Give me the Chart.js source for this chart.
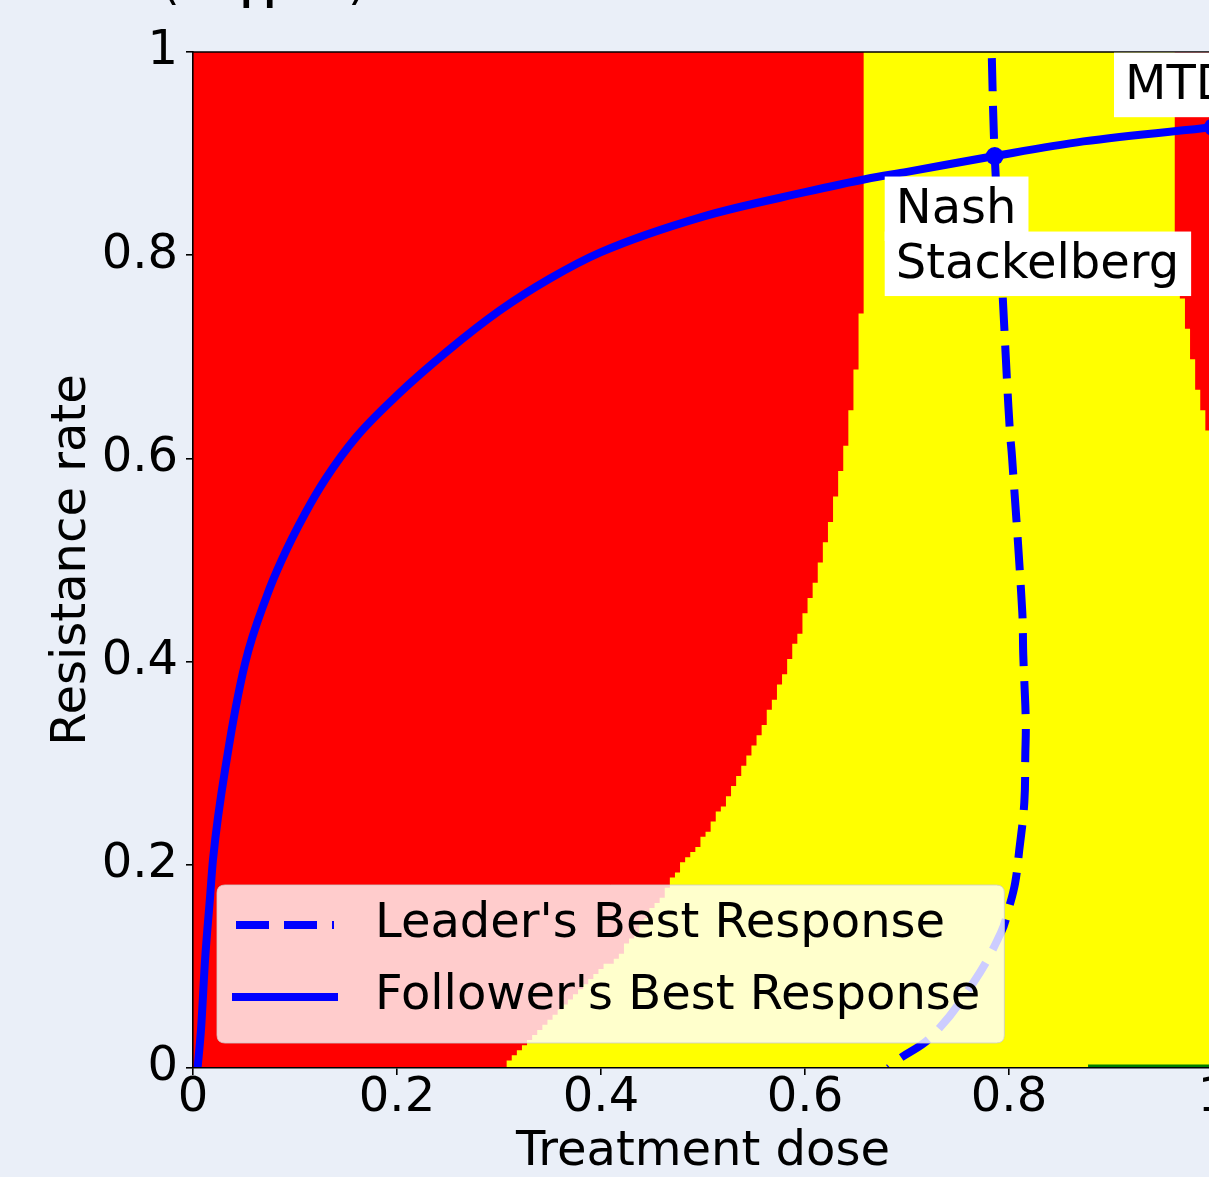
<!DOCTYPE html>
<html>
<head>
<meta charset="utf-8">
<script src="https://cdn.jsdelivr.net/npm/chart.js@4.4.1/dist/chart.umd.min.js"></script>
<style>
  html, body { margin: 0; padding: 0; overflow: hidden; background: #eaeff8; }
  #wrap { width: 1260px; height: 1177px; }
  canvas { display: block; }
</style>
</head>
<body>
<div id="wrap"><canvas id="chart" width="1260" height="1177"></canvas></div>
<script>
// Axis ticks
const xTickValues = [0, 0.2, 0.4, 0.6, 0.8, 1];
const xTickLabels = ['0', '0.2', '0.4', '0.6', '0.8', '1'];
const yTickValues = [0, 0.2, 0.4, 0.6, 0.8, 1];
const yTickLabels = ['0', '0.2', '0.4', '0.6', '0.8', '1'];

// Follower's best response: resistance rate chosen for each dose
const followerDose = [0.0045, 0.008, 0.0118, 0.0167, 0.0196, 0.0333, 0.051, 0.0725, 0.087, 0.11, 0.13,
  0.16, 0.2, 0.25, 0.3, 0.35, 0.4, 0.5, 0.6, 0.66, 0.7, 0.786, 0.873, 1.0];
const followerRate = [0.0, 0.04, 0.106, 0.168, 0.205, 0.305, 0.398, 0.465, 0.5, 0.546, 0.58,
  0.621, 0.662, 0.706, 0.745, 0.777, 0.803, 0.838, 0.862, 0.875, 0.882, 0.8976, 0.912, 0.926];

// Leader's best response: dose chosen for each resistance rate (top to bottom)
const leaderDose = [0.783, 0.786, 0.794, 0.798, 0.801, 0.803, 0.813, 0.814, 0.816, 0.8165, 0.816,
  0.815, 0.810, 0.806, 0.800, 0.792, 0.765, 0.724, 0.691, 0.682];
const leaderRate = [1.0, 0.8976, 0.756, 0.677, 0.625, 0.601, 0.449, 0.406, 0.357, 0.333, 0.310,
  0.261, 0.214, 0.182, 0.158, 0.133, 0.084, 0.031, 0.008, 0.0];

// Outcome map: upper edge of the yellow region in each dose column (column left edges)
const regionDose = [0, 0.3075, 0.3125, 0.3175, 0.3225, 0.3275, 0.3325, 0.3375, 0.3425, 0.3475, 0.3525,
  0.3575, 0.3625, 0.3675, 0.3725, 0.3775, 0.3825, 0.3875, 0.3925, 0.3975, 0.4025, 0.4075, 0.4125,
  0.4175, 0.4225, 0.4275, 0.4325, 0.4375, 0.4425, 0.4475, 0.4525, 0.4575, 0.4625, 0.4675, 0.4725,
  0.4775, 0.4825, 0.4875, 0.4925, 0.4975, 0.5025, 0.5075, 0.5125, 0.5175, 0.5225, 0.5275, 0.5325,
  0.5375, 0.5425, 0.5475, 0.5525, 0.5575, 0.5625, 0.5675, 0.5725, 0.5775, 0.5825, 0.5875, 0.5925,
  0.5975, 0.6025, 0.6075, 0.6125, 0.6175, 0.6225, 0.6275, 0.6325, 0.6375, 0.6425, 0.6475, 0.6525,
  0.6575, 0.9625, 0.9675, 0.9725, 0.9775, 0.9825, 0.9875, 0.9925, 0.9975, 1.0];
const regionTop = [0, 0.0075, 0.0125, 0.0175, 0.0225, 0.0275, 0.0325, 0.0375, 0.0425, 0.0475, 0.0525,
  0.0575, 0.0625, 0.0675, 0.0725, 0.0775, 0.0825, 0.0875, 0.0925, 0.0975, 0.1025, 0.1025, 0.1075,
  0.1125, 0.1225, 0.1275, 0.1325, 0.1425, 0.1475, 0.1575, 0.1625, 0.1675, 0.1775, 0.1875, 0.1925,
  0.2025, 0.2075, 0.2125, 0.2175, 0.2275, 0.2325, 0.2425, 0.2525, 0.2575, 0.2675, 0.2775, 0.2875,
  0.2975, 0.3075, 0.3175, 0.3275, 0.3375, 0.3525, 0.3625, 0.3775, 0.3875, 0.4025, 0.4175, 0.4275,
  0.4475, 0.4625, 0.4775, 0.4975, 0.5175, 0.5375, 0.5625, 0.5875, 0.6125, 0.6475, 0.6875, 0.7425,
  1.0, 0.7925, 0.7575, 0.7275, 0.6975, 0.6675, 0.6475, 0.6275, 0.6075, 0.6075];

// Green strip along the bottom row
const greenDose = [0.8775, 1.0];
const greenTop = [0.0035, 0.0035];

// Equilibria
const eqDose = [0.786, 1.0];
const eqRate = [0.8976, 0.926];
const eqLabels = [['Nash', 'Stackelberg'], ['MTD']];

const BLUE = '#0000ff';
const FONT = '"DejaVu Sans", "Liberation Sans", sans-serif';
Chart.defaults.font.family = FONT;
Chart.defaults.color = '#000';

const pts = (xs, ys) => xs.map((x, i) => ({ x, y: ys[i] }));

// Text boxes next to the equilibrium markers
const labelPlugin = {
  id: 'eqLabels',
  afterDatasetsDraw(chart) {
    const { ctx } = chart;
    const sx = chart.scales.x, sy = chart.scales.y;
    const place = [ { dx: -99, dy: 67 }, { dx: -88, dy: -28 } ];
    ctx.save();
    ctx.font = '48px ' + FONT;
    ctx.textBaseline = 'alphabetic';
    ctx.textAlign = 'left';
    eqDose.forEach((d, i) => {
      const px = sx.getPixelForValue(d), py = sy.getPixelForValue(eqRate[i]);
      eqLabels[i].forEach((txt, j) => {
        const tx = px + place[i].dx;
        const base = py + place[i].dy + j * 55;
        const w = ctx.measureText(txt).width;
        ctx.fillStyle = '#ffffff';
        ctx.fillRect(tx - 11, base - 46.5, w + 23, 64.5);
        ctx.fillStyle = '#000';
        ctx.fillText(txt, tx, base);
      });
    });
    ctx.restore();
  }
};

// Legend box inside the lower-left corner of the plot
const legendPlugin = {
  id: 'insetLegend',
  afterDatasetsDraw(chart) {
    const { ctx, chartArea } = chart;
    const items = chart.data.datasets.filter(d => d.legendRank)
      .sort((a, b) => a.legendRank - b.legendRank);
    ctx.save();
    ctx.font = '48px ' + FONT;
    const textW = Math.max(...items.map(d => ctx.measureText(d.label).width));
    const left = chartArea.left + 24;
    const bottom = chartArea.bottom - 25;
    const h = 158, w = 158 + textW + 24;
    const top = bottom - h, r = 8;
    ctx.beginPath();
    ctx.moveTo(left + r, top);
    ctx.lineTo(left + w - r, top);
    ctx.quadraticCurveTo(left + w, top, left + w, top + r);
    ctx.lineTo(left + w, bottom - r);
    ctx.quadraticCurveTo(left + w, bottom, left + w - r, bottom);
    ctx.lineTo(left + r, bottom);
    ctx.quadraticCurveTo(left, bottom, left, bottom - r);
    ctx.lineTo(left, top + r);
    ctx.quadraticCurveTo(left, top, left + r, top);
    ctx.closePath();
    ctx.fillStyle = 'rgba(255,255,255,0.8)';
    ctx.fill();
    ctx.lineWidth = 1;
    ctx.strokeStyle = 'rgba(204,204,204,0.8)';
    ctx.stroke();
    items.forEach((d, i) => {
      const cy = top + 40 + i * 72;
      ctx.strokeStyle = d.borderColor;
      ctx.lineWidth = d.borderWidth;
      ctx.lineCap = 'butt';
      ctx.beginPath();
      if (d.borderDash && d.borderDash.length) {
        ctx.setLineDash(d.borderDash);
        ctx.moveTo(left + 19, cy);
        ctx.lineTo(left + 117, cy);
      } else {
        ctx.setLineDash([]);
        ctx.moveTo(left + 15, cy);
        ctx.lineTo(left + 121, cy);
      }
      ctx.stroke();
      ctx.setLineDash([]);
      ctx.fillStyle = '#000';
      ctx.textBaseline = 'middle';
      ctx.fillText(d.label, left + 158, cy);
    });
    ctx.restore();
  }
};

// Top and right spines, and the panel heading cut by the top edge of the page
const framePlugin = {
  id: 'frame',
  afterDatasetsDraw(chart) {
    const { ctx, chartArea } = chart;
    ctx.save();
    ctx.strokeStyle = '#000';
    ctx.lineWidth = 1.6;
    ctx.beginPath();
    ctx.moveTo(chartArea.left, chartArea.top);
    ctx.lineTo(chartArea.right, chartArea.top);
    ctx.lineTo(chartArea.right, chartArea.bottom);
    ctx.stroke();
    ctx.restore();
  },
  afterDraw(chart) {
    const { ctx } = chart;
    ctx.save();
    ctx.font = '48px ' + FONT;
    ctx.fillStyle = '#000';
    ctx.textBaseline = 'alphabetic';
    ctx.fillText('(', 161, -1);
    ctx.fillText('\u220F', 240, -1);
    ctx.fillText(')', 348, -1);
    ctx.restore();
  }
};

const tickFont = { size: 48, lineHeight: 1 };

new Chart(document.getElementById('chart'), {
  type: 'line',
  data: {
    datasets: [
      {
        label: 'equilibria', data: pts(eqDose, eqRate), showLine: false,
        pointRadius: 9, pointBackgroundColor: BLUE, pointBorderColor: BLUE, pointBorderWidth: 0,
        order: 1
      },
      {
        label: "Follower's Best Response", legendRank: 2, data: pts(followerDose, followerRate),
        borderColor: BLUE, borderWidth: 8, pointRadius: 0, cubicInterpolationMode: 'monotone',
        fill: false, clip: 0, order: 2
      },
      {
        label: "Leader's Best Response", legendRank: 1, data: pts(leaderDose, leaderRate),
        borderColor: BLUE, borderWidth: 8, borderDash: [33, 15], borderDashOffset: 42,
        pointRadius: 0, tension: 0.4, fill: false, clip: 0, order: 3
      },
      {
        label: 'green', data: pts(greenDose, greenTop), borderWidth: 0, pointRadius: 0,
        backgroundColor: '#008000', fill: 'start', order: 8
      },
      {
        label: 'yellow', data: pts(regionDose, regionTop), stepped: true, borderWidth: 0,
        pointRadius: 0, backgroundColor: '#ffff00', fill: 'start', order: 9
      },
      {
        label: 'red', data: [{ x: 0, y: 1 }, { x: 1, y: 1 }], borderWidth: 0, pointRadius: 0,
        backgroundColor: '#ff0000', fill: 'start', order: 10
      }
    ]
  },
  options: {
    responsive: false,
    devicePixelRatio: 1,
    animation: false,
    events: [],
    layout: { padding: { top: 52, left: 0, right: 47, bottom: 0 } },
    plugins: { legend: { display: false }, tooltip: { enabled: false } },
    scales: {
      x: {
        type: 'linear', min: 0, max: 1,
        afterFit: s => { s.height = 109; },
        afterBuildTicks: s => { s.ticks = xTickValues.map(v => ({ value: v })); },
        ticks: {
          font: tickFont, padding: 0, maxRotation: 0, autoSkip: false,
          callback: (v) => xTickLabels[xTickValues.findIndex(t => Math.abs(t - v) < 1e-9)]
        },
        grid: { drawOnChartArea: false, color: '#000', lineWidth: 1.6, tickLength: 7 },
        border: { display: true, color: '#000', width: 1.6, z: 1 },
        title: { display: true, text: 'Treatment dose', font: { size: 48, lineHeight: 1 }, padding: { top: 0, bottom: 0 } }
      },
      y: {
        type: 'linear', min: 0, max: 1,
        afterFit: s => { s.width = 193; },
        afterBuildTicks: s => { s.ticks = yTickValues.map(v => ({ value: v })); },
        ticks: {
          font: tickFont, padding: 8, autoSkip: false,
          callback: (v) => yTickLabels[yTickValues.findIndex(t => Math.abs(t - v) < 1e-9)]
        },
        grid: { drawOnChartArea: false, color: '#000', lineWidth: 1.6, tickLength: 7 },
        border: { display: true, color: '#000', width: 1.6, z: 1 },
        title: { display: true, text: 'Resistance rate', font: { size: 48, lineHeight: 1 }, padding: { top: 49, bottom: 0 } }
      }
    }
  },
  plugins: [framePlugin, labelPlugin, legendPlugin]
});
</script>
</body>
</html>
